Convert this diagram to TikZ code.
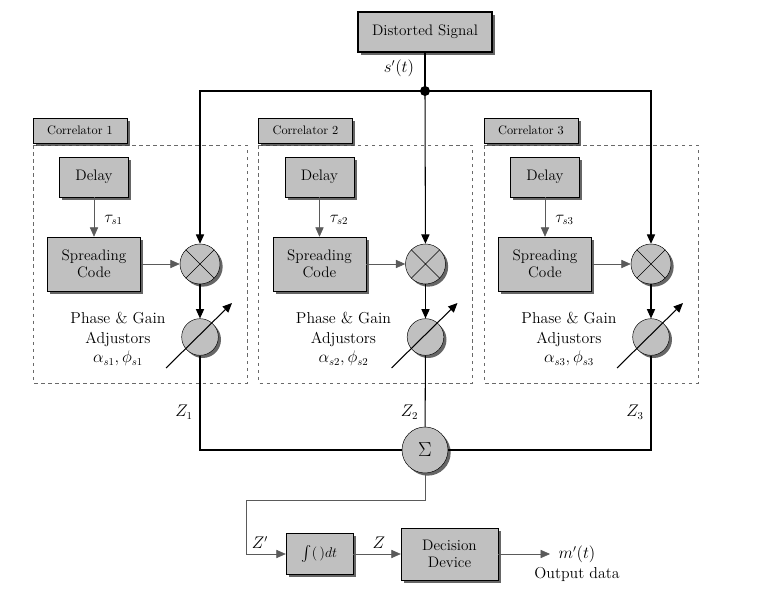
\documentclass[tikz,border=0pt]{standalone}
\usepackage{amsmath}
\usepackage{amssymb}
\usepackage{xcolor}
\usepackage{tikz}
\usetikzlibrary{shapes.geometric, arrows.meta, positioning, shadows}
\definecolor{boxgray}{RGB}{192,192,192}
\definecolor{dashgray}{RGB}{105,105,105}
\definecolor{linegray}{RGB}{90,90,90}

\tikzset{
  shade box/.style={drop shadow={shadow xshift=0.08cm, shadow yshift=-0.08cm, fill=black!75, opacity=0.8}},
  block/.style={draw, fill=boxgray, inner sep=0pt, align=center, shade box,
    font=\fontsize{13}{15}\selectfont},
  tagbox/.style={draw, fill=boxgray, inner sep=0pt, shade box,
    minimum width=2.82cm, minimum height=0.75cm, font=\fontsize{10.5}{12}\selectfont},
  mixer/.style={circle, draw, fill=boxgray, inner sep=0pt, minimum size=1.2cm, shade box,
    path picture={\draw (path picture bounding box.north west) -- (path picture bounding box.south east)
      (path picture bounding box.north east) -- (path picture bounding box.south west);}},
  adjuster/.style={circle, draw, fill=boxgray, inner sep=0pt, minimum size=1.1cm, shade box},
  sigline/.style={line width=0.9pt},
  thinline/.style={line width=0.5pt, draw=linegray},
  lbl/.style={font=\fontsize{13.5}{17}\selectfont, inner sep=1pt}
}

\begin{document}
\begin{tikzpicture}[x=0.03cm, y=-0.03cm, >={Triangle[length=8pt,width=7pt]}]
\useasboundingbox (0,0) rectangle (774,598);

% Input signal and split point
\node[block, line width=0.9pt, minimum width=4.02cm, minimum height=1.2cm] (sig) at (425,32) {Distorted Signal};
\node[lbl] (slbl) at (399,68) {$s'(t)$};
\coordinate (j) at (425,91);

% Three correlator branches
\foreach \i/\dx in {1/0, 2/225.5, 3/451} {
  \draw[dashed, dashgray, line width=0.6pt] (33+\dx,145) rectangle (247+\dx,383);
  \node[tagbox] (tag\i) at (80+\dx,130.5) {Correlator \i};
  \node[block, minimum width=2.07cm, minimum height=1.2cm] (delay\i) at (94+\dx,177) {Delay};
  \node[block, minimum width=2.79cm, minimum height=1.62cm] (code\i) at (94+\dx,264) {Spreading\\Code};
  \node[mixer] (mix\i) at (200+\dx,264) {};
  \node[adjuster] (adj\i) at (200+\dx,337) {};
  \node[lbl, anchor=west] (tau\i) at (103+\dx,220) {$\tau_{s\i}$};
  \node[lbl, align=center] (pg\i) at (118+\dx,339) {Phase \& Gain\\Adjustors\\$\alpha_{s\i},\phi_{s\i}$};
  \node[lbl] (z\i) at (184+\dx,412) {$Z_{\i}$};
  \draw[thinline, ->] (delay\i) -- (code\i);
  \draw[thinline, ->] (code\i) -- (mix\i);
  \draw[sigline, ->] (mix\i) -- (adj\i);
  \draw[sigline, ->] ([shift={(-34,31)}]adj\i.center) -- ([shift={(32,-34)}]adj\i.center);
}

\draw[sigline] (sig) -- (j);
\fill (j) circle (0.15cm);
\draw[sigline, ->] (j) -| (mix1);
\draw[sigline, ->] (j) -- (mix2);
\draw[sigline, ->] (j) -| (mix3);

% Summation and detection
\node[circle, draw, fill=boxgray, inner sep=0pt, minimum size=1.38cm, shade box,
  font=\fontsize{17}{19}\selectfont] (sum) at (425,450) {$\Sigma$};
\draw[sigline] (adj1) |- (sum);
\draw[sigline] (adj2) -- (sum);
\draw[sigline] (adj3) |- (sum);

\node[block, minimum width=2.01cm, minimum height=1.23cm] (integ) at (319.5,554) {$\int(\,)dt$};
\node[block, minimum width=2.91cm, minimum height=1.56cm] (dec) at (449.5,554) {Decision\\Device};
\coordinate (bend) at (246,500);
\coordinate (out) at (550,554);
\draw[thinline, ->] (sum) |- (bend) |- (integ);
\draw[thinline, ->] (integ) -- (dec);
\draw[thinline, ->] (dec) -- (out);
\node[lbl] (zp) at (260,543) {$Z'$};
\node[lbl] (zz) at (379,543) {$Z$};
\node[lbl, align=center] (outlbl) at (577,564) {$m'(t)$\\Output data};
\end{tikzpicture}
\end{document}
